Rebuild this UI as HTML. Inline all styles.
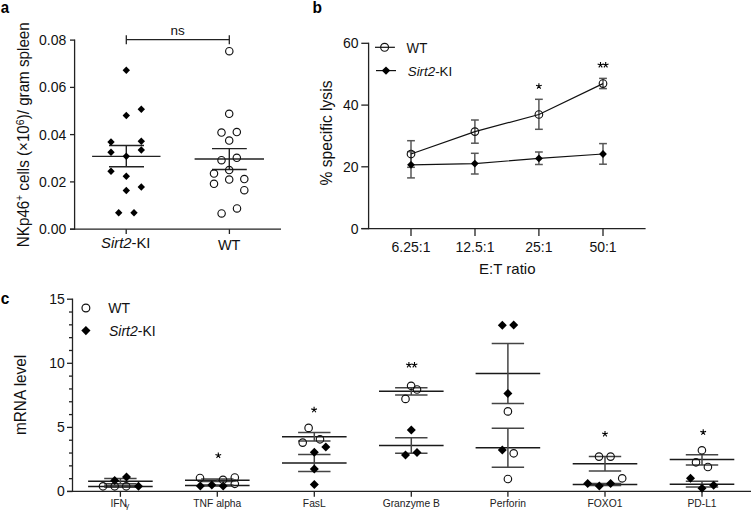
<!DOCTYPE html>
<html><head><meta charset="utf-8"><style>
html,body{margin:0;padding:0;background:#fff;width:751px;height:511px;overflow:hidden}
svg{display:block;font-family:"Liberation Sans", sans-serif}
</style></head><body>
<svg width="751" height="511" viewBox="0 0 751 511">
<rect width="751" height="511" fill="#fff"/>
<text transform="translate(0.8,12.7) scale(0.97,1.07)" font-size="15.5" font-weight="bold" fill="#000">a</text>
<line x1="74.6" y1="39.5" x2="74.6" y2="229.8" stroke="#222" stroke-width="1.3"/>
<line x1="70" y1="229.2" x2="281" y2="229.2" stroke="#222" stroke-width="1.3"/>
<line x1="70" y1="40.1" x2="74.6" y2="40.1" stroke="#222" stroke-width="1.3"/>
<text x="66.3" y="45.1" font-size="14" text-anchor="end" font-weight="normal" fill="#111" >0.08</text>
<line x1="70" y1="87.4" x2="74.6" y2="87.4" stroke="#222" stroke-width="1.3"/>
<text x="66.3" y="92.4" font-size="14" text-anchor="end" font-weight="normal" fill="#111" >0.06</text>
<line x1="70" y1="134.6" x2="74.6" y2="134.6" stroke="#222" stroke-width="1.3"/>
<text x="66.3" y="139.6" font-size="14" text-anchor="end" font-weight="normal" fill="#111" >0.04</text>
<line x1="70" y1="181.9" x2="74.6" y2="181.9" stroke="#222" stroke-width="1.3"/>
<text x="66.3" y="186.9" font-size="14" text-anchor="end" font-weight="normal" fill="#111" >0.02</text>
<line x1="70" y1="229.2" x2="74.6" y2="229.2" stroke="#222" stroke-width="1.3"/>
<text x="66.3" y="234.2" font-size="14" text-anchor="end" font-weight="normal" fill="#111" >0.00</text>
<line x1="126.2" y1="229.2" x2="126.2" y2="234" stroke="#222" stroke-width="1.3"/>
<line x1="229.4" y1="229.2" x2="229.4" y2="234" stroke="#222" stroke-width="1.3"/>
<text x="125.8" y="248.0" font-size="14.8" text-anchor="middle" font-weight="normal" fill="#111" ><tspan font-style="italic">Sirt2</tspan>-KI</text>
<text x="229.2" y="249.8" font-size="14.5" text-anchor="middle" font-weight="normal" fill="#111" >WT</text>
<text transform="translate(28.6,134.7) rotate(-90) scale(1,1.07)" font-size="15.2" text-anchor="middle" fill="#111">NKp46<tspan dy="-5" font-size="10">+</tspan><tspan dy="5"> cells (×10</tspan><tspan dy="-4.5" font-size="10.5">6</tspan><tspan dy="4.5">)/ gram spleen</tspan></text>
<line x1="126.3" y1="39.7" x2="229.3" y2="39.7" stroke="#222" stroke-width="1.3"/>
<line x1="126.3" y1="35.2" x2="126.3" y2="44.2" stroke="#222" stroke-width="1.3"/>
<line x1="229.3" y1="35.2" x2="229.3" y2="44.2" stroke="#222" stroke-width="1.3"/>
<text x="177.6" y="35" font-size="13.5" text-anchor="middle" font-weight="normal" fill="#111" >ns</text>
<line x1="109" y1="145.5" x2="144" y2="145.5" stroke="#222" stroke-width="1.4"/>
<line x1="109" y1="166.7" x2="144" y2="166.7" stroke="#222" stroke-width="1.4"/>
<line x1="126.3" y1="145.5" x2="126.3" y2="166.7" stroke="#222" stroke-width="1.4"/>
<line x1="92.1" y1="156.4" x2="160.5" y2="156.4" stroke="#222" stroke-width="1.4"/>
<line x1="212" y1="148.6" x2="246.8" y2="148.6" stroke="#222" stroke-width="1.4"/>
<line x1="212" y1="169.5" x2="246.8" y2="169.5" stroke="#222" stroke-width="1.4"/>
<line x1="229.3" y1="148.6" x2="229.3" y2="169.5" stroke="#222" stroke-width="1.4"/>
<line x1="194.6" y1="159" x2="264" y2="159" stroke="#222" stroke-width="1.4"/>
<path d="M126.3 66.5L130.0 70.2L126.3 73.9L122.6 70.2Z" fill="#000"/>
<path d="M126.3 111.8L130.0 115.5L126.3 119.2L122.6 115.5Z" fill="#000"/>
<path d="M141.3 105.6L145.0 109.3L141.3 113.0L137.60000000000002 109.3Z" fill="#000"/>
<path d="M111 138.3L114.7 142L111 145.7L107.3 142Z" fill="#000"/>
<path d="M141.3 137.5L145.0 141.2L141.3 144.89999999999998L137.60000000000002 141.2Z" fill="#000"/>
<path d="M111 148.5L114.7 152.2L111 155.89999999999998L107.3 152.2Z" fill="#000"/>
<path d="M141.3 146.3L145.0 150L141.3 153.7L137.60000000000002 150Z" fill="#000"/>
<path d="M126.3 152.60000000000002L130.0 156.3L126.3 160.0L122.6 156.3Z" fill="#000"/>
<path d="M111 167.60000000000002L114.7 171.3L111 175.0L107.3 171.3Z" fill="#000"/>
<path d="M126.3 172.5L130.0 176.2L126.3 179.89999999999998L122.6 176.2Z" fill="#000"/>
<path d="M141.3 183.3L145.0 187L141.3 190.7L137.60000000000002 187Z" fill="#000"/>
<path d="M126.3 186.8L130.0 190.5L126.3 194.2L122.6 190.5Z" fill="#000"/>
<path d="M118.7 209.10000000000002L122.4 212.8L118.7 216.5L115.0 212.8Z" fill="#000"/>
<path d="M134 209.10000000000002L137.7 212.8L134 216.5L130.3 212.8Z" fill="#000"/>
<circle cx="229.3" cy="51.2" r="3.7" fill="none" stroke="#111" stroke-width="1.15"/>
<circle cx="229.2" cy="113.8" r="3.7" fill="none" stroke="#111" stroke-width="1.15"/>
<circle cx="221.5" cy="132.5" r="3.7" fill="none" stroke="#111" stroke-width="1.15"/>
<circle cx="236.8" cy="132" r="3.7" fill="none" stroke="#111" stroke-width="1.15"/>
<circle cx="229.2" cy="140.5" r="3.7" fill="none" stroke="#111" stroke-width="1.15"/>
<circle cx="221.5" cy="160.2" r="3.7" fill="none" stroke="#111" stroke-width="1.15"/>
<circle cx="236.8" cy="157.8" r="3.7" fill="none" stroke="#111" stroke-width="1.15"/>
<circle cx="229.2" cy="170" r="3.7" fill="none" stroke="#111" stroke-width="1.15"/>
<circle cx="214" cy="173.5" r="3.7" fill="none" stroke="#111" stroke-width="1.15"/>
<circle cx="229.2" cy="179.5" r="3.7" fill="none" stroke="#111" stroke-width="1.15"/>
<circle cx="244.3" cy="179" r="3.7" fill="none" stroke="#111" stroke-width="1.15"/>
<circle cx="214" cy="183.8" r="3.7" fill="none" stroke="#111" stroke-width="1.15"/>
<circle cx="244.3" cy="190.2" r="3.7" fill="none" stroke="#111" stroke-width="1.15"/>
<circle cx="237" cy="208.4" r="3.7" fill="none" stroke="#111" stroke-width="1.15"/>
<circle cx="221.6" cy="213.4" r="3.7" fill="none" stroke="#111" stroke-width="1.15"/>
<text transform="translate(312.4,12.8) scale(1,1.1)" font-size="15.5" font-weight="bold" fill="#000">b</text>
<line x1="368.6" y1="42.7" x2="368.6" y2="229.2" stroke="#222" stroke-width="1.3"/>
<line x1="361.3" y1="228.6" x2="645.6" y2="228.6" stroke="#222" stroke-width="1.3"/>
<line x1="361.3" y1="43.3" x2="368.6" y2="43.3" stroke="#222" stroke-width="1.3"/>
<text x="358.5" y="48.3" font-size="14" text-anchor="end" font-weight="normal" fill="#111" >60</text>
<line x1="361.3" y1="105.1" x2="368.6" y2="105.1" stroke="#222" stroke-width="1.3"/>
<text x="358.5" y="110.1" font-size="14" text-anchor="end" font-weight="normal" fill="#111" >40</text>
<line x1="361.3" y1="166.8" x2="368.6" y2="166.8" stroke="#222" stroke-width="1.3"/>
<text x="358.5" y="171.8" font-size="14" text-anchor="end" font-weight="normal" fill="#111" >20</text>
<line x1="361.3" y1="228.6" x2="368.6" y2="228.6" stroke="#222" stroke-width="1.3"/>
<text x="358.5" y="233.6" font-size="14" text-anchor="end" font-weight="normal" fill="#111" >0</text>
<line x1="411" y1="228.6" x2="411" y2="236" stroke="#222" stroke-width="1.3"/>
<text x="411" y="251.6" font-size="14" text-anchor="middle" font-weight="normal" fill="#111" >6.25:1</text>
<line x1="475" y1="228.6" x2="475" y2="236" stroke="#222" stroke-width="1.3"/>
<text x="475" y="251.6" font-size="14" text-anchor="middle" font-weight="normal" fill="#111" >12.5:1</text>
<line x1="538.9" y1="228.6" x2="538.9" y2="236" stroke="#222" stroke-width="1.3"/>
<text x="538.9" y="251.6" font-size="14" text-anchor="middle" font-weight="normal" fill="#111" >25:1</text>
<line x1="603" y1="228.6" x2="603" y2="236" stroke="#222" stroke-width="1.3"/>
<text x="603" y="251.6" font-size="14" text-anchor="middle" font-weight="normal" fill="#111" >50:1</text>
<text x="507.3" y="273.5" font-size="15" text-anchor="middle" font-weight="normal" fill="#111" >E:T ratio</text>
<text transform="translate(331.7,133) rotate(-90)" font-size="15.6" text-anchor="middle" fill="#111">% specific lysis</text>
<line x1="375" y1="47.3" x2="394.9" y2="47.3" stroke="#111" stroke-width="1.2"/>
<circle cx="384.6" cy="47.3" r="3.95" fill="none" stroke="#111" stroke-width="1.15"/>
<text transform="translate(406.6,52.6) scale(1,1.06)" font-size="13.3" fill="#111">WT</text>
<line x1="376" y1="70.6" x2="396" y2="70.6" stroke="#111" stroke-width="1.2"/>
<path d="M386 66.39999999999999L390.2 70.6L386 74.8L381.8 70.6Z" fill="#000"/>
<text x="407.8" y="76" font-size="13.3" text-anchor="start" font-weight="normal" fill="#111" ><tspan font-style="italic">Sirt2</tspan>-KI</text>
<line x1="411" y1="151.7" x2="411" y2="177.9" stroke="#575757" stroke-width="1.5"/>
<line x1="407.1" y1="151.7" x2="414.9" y2="151.7" stroke="#575757" stroke-width="1.5"/>
<line x1="407.1" y1="177.9" x2="414.9" y2="177.9" stroke="#575757" stroke-width="1.5"/>
<line x1="474.8" y1="153.3" x2="474.8" y2="174" stroke="#575757" stroke-width="1.5"/>
<line x1="470.90000000000003" y1="153.3" x2="478.7" y2="153.3" stroke="#575757" stroke-width="1.5"/>
<line x1="470.90000000000003" y1="174" x2="478.7" y2="174" stroke="#575757" stroke-width="1.5"/>
<line x1="538.9" y1="152" x2="538.9" y2="164.5" stroke="#575757" stroke-width="1.5"/>
<line x1="535.0" y1="152" x2="542.8" y2="152" stroke="#575757" stroke-width="1.5"/>
<line x1="535.0" y1="164.5" x2="542.8" y2="164.5" stroke="#575757" stroke-width="1.5"/>
<line x1="603" y1="143.6" x2="603" y2="164.2" stroke="#575757" stroke-width="1.5"/>
<line x1="599.1" y1="143.6" x2="606.9" y2="143.6" stroke="#575757" stroke-width="1.5"/>
<line x1="599.1" y1="164.2" x2="606.9" y2="164.2" stroke="#575757" stroke-width="1.5"/>
<line x1="411" y1="140.7" x2="411" y2="167.3" stroke="#575757" stroke-width="1.5"/>
<line x1="407.1" y1="140.7" x2="414.9" y2="140.7" stroke="#575757" stroke-width="1.5"/>
<line x1="407.1" y1="167.3" x2="414.9" y2="167.3" stroke="#575757" stroke-width="1.5"/>
<line x1="474.9" y1="120" x2="474.9" y2="143.2" stroke="#575757" stroke-width="1.5"/>
<line x1="471.0" y1="120" x2="478.79999999999995" y2="120" stroke="#575757" stroke-width="1.5"/>
<line x1="471.0" y1="143.2" x2="478.79999999999995" y2="143.2" stroke="#575757" stroke-width="1.5"/>
<line x1="538.9" y1="99.3" x2="538.9" y2="129.3" stroke="#575757" stroke-width="1.5"/>
<line x1="535.0" y1="99.3" x2="542.8" y2="99.3" stroke="#575757" stroke-width="1.5"/>
<line x1="535.0" y1="129.3" x2="542.8" y2="129.3" stroke="#575757" stroke-width="1.5"/>
<line x1="603" y1="78.4" x2="603" y2="88.6" stroke="#575757" stroke-width="1.5"/>
<line x1="599.1" y1="78.4" x2="606.9" y2="78.4" stroke="#575757" stroke-width="1.5"/>
<line x1="599.1" y1="88.6" x2="606.9" y2="88.6" stroke="#575757" stroke-width="1.5"/>
<polyline points="411,154 474.9,131.6 538.9,114.5 603,83.6" fill="none" stroke="#111" stroke-width="1.2"/>
<polyline points="411,164.8 474.8,163.6 538.9,158.4 603,154" fill="none" stroke="#111" stroke-width="1.2"/>
<circle cx="411" cy="154" r="3.8" fill="none" stroke="#111" stroke-width="1.15"/>
<circle cx="474.9" cy="131.6" r="3.8" fill="none" stroke="#111" stroke-width="1.15"/>
<circle cx="538.9" cy="114.5" r="3.8" fill="none" stroke="#111" stroke-width="1.15"/>
<circle cx="603" cy="83.6" r="3.8" fill="none" stroke="#111" stroke-width="1.15"/>
<path d="M411 160.9L414.9 164.8L411 168.70000000000002L407.1 164.8Z" fill="#000"/>
<path d="M474.8 159.7L478.7 163.6L474.8 167.5L470.90000000000003 163.6Z" fill="#000"/>
<path d="M538.9 154.5L542.8 158.4L538.9 162.3L535.0 158.4Z" fill="#000"/>
<path d="M603 150.1L606.9 154L603 157.9L599.1 154Z" fill="#000"/>
<path d="M538.90 86.20L538.90 83.20M538.90 86.20L541.75 85.27M538.90 86.20L540.66 88.63M538.90 86.20L537.14 88.63M538.90 86.20L536.05 85.27" stroke="#000" stroke-width="1.1" stroke-linecap="butt" fill="none"/>
<path d="M600.50 65.00L600.50 62.00M600.50 65.00L603.35 64.07M600.50 65.00L602.26 67.43M600.50 65.00L598.74 67.43M600.50 65.00L597.65 64.07" stroke="#000" stroke-width="1.1" stroke-linecap="butt" fill="none"/>
<path d="M605.70 65.00L605.70 62.00M605.70 65.00L608.55 64.07M605.70 65.00L607.46 67.43M605.70 65.00L603.94 67.43M605.70 65.00L602.85 64.07" stroke="#000" stroke-width="1.1" stroke-linecap="butt" fill="none"/>
<text transform="translate(0.8,303.7) scale(1,1.1)" font-size="15.5" font-weight="bold" fill="#000">c</text>
<line x1="72.5" y1="298.6" x2="72.5" y2="491.9" stroke="#222" stroke-width="1.3"/>
<line x1="67" y1="491.3" x2="751" y2="491.3" stroke="#222" stroke-width="1.3"/>
<line x1="67" y1="491.5" x2="72.5" y2="491.5" stroke="#222" stroke-width="1.3"/>
<text x="64.9" y="495.7" font-size="14" text-anchor="end" font-weight="normal" fill="#111" >0</text>
<line x1="69" y1="478.68" x2="72.5" y2="478.68" stroke="#222" stroke-width="1.3"/>
<line x1="69" y1="465.86" x2="72.5" y2="465.86" stroke="#222" stroke-width="1.3"/>
<line x1="69" y1="453.04" x2="72.5" y2="453.04" stroke="#222" stroke-width="1.3"/>
<line x1="69" y1="440.22" x2="72.5" y2="440.22" stroke="#222" stroke-width="1.3"/>
<line x1="67" y1="427.4" x2="72.5" y2="427.4" stroke="#222" stroke-width="1.3"/>
<text x="64.9" y="432.4" font-size="14" text-anchor="end" font-weight="normal" fill="#111" >5</text>
<line x1="69" y1="414.58" x2="72.5" y2="414.58" stroke="#222" stroke-width="1.3"/>
<line x1="69" y1="401.76" x2="72.5" y2="401.76" stroke="#222" stroke-width="1.3"/>
<line x1="69" y1="388.94" x2="72.5" y2="388.94" stroke="#222" stroke-width="1.3"/>
<line x1="69" y1="376.12" x2="72.5" y2="376.12" stroke="#222" stroke-width="1.3"/>
<line x1="67" y1="363.3" x2="72.5" y2="363.3" stroke="#222" stroke-width="1.3"/>
<text x="64.9" y="368.3" font-size="14" text-anchor="end" font-weight="normal" fill="#111" >10</text>
<line x1="69" y1="350.48" x2="72.5" y2="350.48" stroke="#222" stroke-width="1.3"/>
<line x1="69" y1="337.65999999999997" x2="72.5" y2="337.65999999999997" stroke="#222" stroke-width="1.3"/>
<line x1="69" y1="324.84000000000003" x2="72.5" y2="324.84000000000003" stroke="#222" stroke-width="1.3"/>
<line x1="69" y1="312.02" x2="72.5" y2="312.02" stroke="#222" stroke-width="1.3"/>
<line x1="67" y1="299.2" x2="72.5" y2="299.2" stroke="#222" stroke-width="1.3"/>
<text x="64.9" y="304.2" font-size="14" text-anchor="end" font-weight="normal" fill="#111" >15</text>
<text transform="translate(26.3,394.9) rotate(-90) scale(1,1.05)" font-size="15.4" text-anchor="middle" fill="#111">mRNA level</text>
<circle cx="85.9" cy="308" r="3.9" fill="none" stroke="#111" stroke-width="1.2"/>
<path d="M85.9 326.0L90.5 330.6L85.9 335.20000000000005L81.30000000000001 330.6Z" fill="#000"/>
<text x="108.3" y="312.9" font-size="14" text-anchor="start" font-weight="normal" fill="#111" >WT</text>
<text x="109" y="336" font-size="14" text-anchor="start" font-weight="normal" fill="#111" ><tspan font-style="italic">Sirt2</tspan>-KI</text>
<line x1="120.4" y1="491.3" x2="120.4" y2="496.8" stroke="#222" stroke-width="1.3"/>
<text x="110.4" y="506.6" font-size="10.3" text-anchor="start" font-weight="normal" fill="#222" >IFN<tspan font-size="8" dx="-1.8" dy="1.6">γ</tspan></text>
<line x1="217.3" y1="491.3" x2="217.3" y2="496.8" stroke="#222" stroke-width="1.3"/>
<text x="217.3" y="506.6" font-size="10.3" text-anchor="middle" font-weight="normal" fill="#222" >TNF alpha</text>
<line x1="314.3" y1="491.3" x2="314.3" y2="496.8" stroke="#222" stroke-width="1.3"/>
<text x="314.3" y="506.6" font-size="10.3" text-anchor="middle" font-weight="normal" fill="#222" >FasL</text>
<line x1="411.3" y1="491.3" x2="411.3" y2="496.8" stroke="#222" stroke-width="1.3"/>
<text x="411.3" y="506.6" font-size="10.3" text-anchor="middle" font-weight="normal" fill="#222" >Granzyme B</text>
<line x1="507.9" y1="491.3" x2="507.9" y2="496.8" stroke="#222" stroke-width="1.3"/>
<text x="507.9" y="506.6" font-size="10.3" text-anchor="middle" font-weight="normal" fill="#222" >Perforin</text>
<line x1="605" y1="491.3" x2="605" y2="496.8" stroke="#222" stroke-width="1.3"/>
<text x="605" y="506.6" font-size="10.3" text-anchor="middle" font-weight="normal" fill="#222" >FOXO1</text>
<line x1="702" y1="491.3" x2="702" y2="496.8" stroke="#222" stroke-width="1.3"/>
<text x="702" y="506.6" font-size="10.3" text-anchor="middle" font-weight="normal" fill="#222" >PD-L1</text>
<line x1="88.10000000000001" y1="486.4" x2="152.7" y2="486.4" stroke="#1a1a1a" stroke-width="1.5"/>
<line x1="104.2" y1="485.6" x2="136.6" y2="485.6" stroke="#444" stroke-width="1.5"/>
<line x1="104.2" y1="487.2" x2="136.6" y2="487.2" stroke="#444" stroke-width="1.5"/>
<line x1="120.4" y1="485.6" x2="120.4" y2="487.2" stroke="#444" stroke-width="1.5"/>
<line x1="88.10000000000001" y1="481.2" x2="152.7" y2="481.2" stroke="#1a1a1a" stroke-width="1.5"/>
<line x1="104.2" y1="478.5" x2="136.6" y2="478.5" stroke="#444" stroke-width="1.5"/>
<line x1="104.2" y1="483.8" x2="136.6" y2="483.8" stroke="#444" stroke-width="1.5"/>
<line x1="120.4" y1="478.5" x2="120.4" y2="483.8" stroke="#444" stroke-width="1.5"/>
<path d="M114.7 476.0L119.2 480.5L114.7 485.0L110.2 480.5Z" fill="#000"/>
<path d="M126.5 472.5L131.0 477L126.5 481.5L122.0 477Z" fill="#000"/>
<path d="M138.5 481.7L143.0 486.2L138.5 490.7L134.0 486.2Z" fill="#000"/>
<circle cx="103" cy="486.3" r="3.75" fill="none" stroke="#111" stroke-width="1.15"/>
<circle cx="114.7" cy="486.3" r="3.75" fill="none" stroke="#111" stroke-width="1.15"/>
<circle cx="126.2" cy="486.3" r="3.75" fill="none" stroke="#111" stroke-width="1.15"/>
<line x1="185.0" y1="480.2" x2="249.60000000000002" y2="480.2" stroke="#1a1a1a" stroke-width="1.5"/>
<line x1="201.10000000000002" y1="479" x2="233.5" y2="479" stroke="#444" stroke-width="1.5"/>
<line x1="201.10000000000002" y1="481.4" x2="233.5" y2="481.4" stroke="#444" stroke-width="1.5"/>
<line x1="217.3" y1="479" x2="217.3" y2="481.4" stroke="#444" stroke-width="1.5"/>
<line x1="185.0" y1="485.5" x2="249.60000000000002" y2="485.5" stroke="#1a1a1a" stroke-width="1.5"/>
<line x1="201.10000000000002" y1="484.9" x2="233.5" y2="484.9" stroke="#444" stroke-width="1.5"/>
<line x1="201.10000000000002" y1="486.1" x2="233.5" y2="486.1" stroke="#444" stroke-width="1.5"/>
<line x1="217.3" y1="484.9" x2="217.3" y2="486.1" stroke="#444" stroke-width="1.5"/>
<path d="M200.3 481.5L204.8 486L200.3 490.5L195.8 486Z" fill="#000"/>
<path d="M211.8 480.5L216.3 485L211.8 489.5L207.3 485Z" fill="#000"/>
<path d="M223.2 481.5L227.7 486L223.2 490.5L218.7 486Z" fill="#000"/>
<circle cx="200" cy="478" r="3.75" fill="none" stroke="#111" stroke-width="1.15"/>
<circle cx="223" cy="479.8" r="3.75" fill="none" stroke="#111" stroke-width="1.15"/>
<circle cx="234.8" cy="477.5" r="3.75" fill="none" stroke="#111" stroke-width="1.15"/>
<circle cx="234.8" cy="483.8" r="3.75" fill="none" stroke="#111" stroke-width="1.15"/>
<line x1="282.0" y1="436.7" x2="346.6" y2="436.7" stroke="#1a1a1a" stroke-width="1.5"/>
<line x1="298.1" y1="432.4" x2="330.5" y2="432.4" stroke="#444" stroke-width="1.5"/>
<line x1="298.1" y1="441.1" x2="330.5" y2="441.1" stroke="#444" stroke-width="1.5"/>
<line x1="314.3" y1="432.4" x2="314.3" y2="441.1" stroke="#444" stroke-width="1.5"/>
<line x1="282.0" y1="463.1" x2="346.6" y2="463.1" stroke="#1a1a1a" stroke-width="1.5"/>
<line x1="298.1" y1="454.6" x2="330.5" y2="454.6" stroke="#444" stroke-width="1.5"/>
<line x1="298.1" y1="471.5" x2="330.5" y2="471.5" stroke="#444" stroke-width="1.5"/>
<line x1="314.3" y1="454.6" x2="314.3" y2="471.5" stroke="#444" stroke-width="1.5"/>
<path d="M325.8 442.5L330.3 447L325.8 451.5L321.3 447Z" fill="#000"/>
<path d="M314.3 447.8L318.8 452.3L314.3 456.8L309.8 452.3Z" fill="#000"/>
<path d="M314.3 464.6L318.8 469.1L314.3 473.6L309.8 469.1Z" fill="#000"/>
<path d="M314.3 480.0L318.8 484.5L314.3 489.0L309.8 484.5Z" fill="#000"/>
<circle cx="308.6" cy="427.9" r="3.75" fill="none" stroke="#111" stroke-width="1.15"/>
<circle cx="302.7" cy="442.6" r="3.75" fill="none" stroke="#111" stroke-width="1.15"/>
<circle cx="320" cy="439.3" r="3.75" fill="none" stroke="#111" stroke-width="1.15"/>
<line x1="379.0" y1="391.3" x2="443.6" y2="391.3" stroke="#1a1a1a" stroke-width="1.5"/>
<line x1="395.1" y1="387.7" x2="427.5" y2="387.7" stroke="#444" stroke-width="1.5"/>
<line x1="395.1" y1="395" x2="427.5" y2="395" stroke="#444" stroke-width="1.5"/>
<line x1="411.3" y1="387.7" x2="411.3" y2="395" stroke="#444" stroke-width="1.5"/>
<line x1="379.0" y1="445.6" x2="443.6" y2="445.6" stroke="#1a1a1a" stroke-width="1.5"/>
<line x1="395.1" y1="437.7" x2="427.5" y2="437.7" stroke="#444" stroke-width="1.5"/>
<line x1="395.1" y1="453.3" x2="427.5" y2="453.3" stroke="#444" stroke-width="1.5"/>
<line x1="411.3" y1="437.7" x2="411.3" y2="453.3" stroke="#444" stroke-width="1.5"/>
<path d="M411.3 425.6L415.8 430.1L411.3 434.6L406.8 430.1Z" fill="#000"/>
<path d="M405.5 450.4L410.0 454.9L405.5 459.4L401.0 454.9Z" fill="#000"/>
<path d="M417 447.9L421.5 452.4L417 456.9L412.5 452.4Z" fill="#000"/>
<circle cx="411.1" cy="385.8" r="3.75" fill="none" stroke="#111" stroke-width="1.15"/>
<circle cx="417" cy="389.5" r="3.75" fill="none" stroke="#111" stroke-width="1.15"/>
<circle cx="405.5" cy="398.9" r="3.75" fill="none" stroke="#111" stroke-width="1.15"/>
<line x1="475.59999999999997" y1="447.7" x2="540.1999999999999" y2="447.7" stroke="#1a1a1a" stroke-width="1.5"/>
<line x1="491.7" y1="428.2" x2="524.1" y2="428.2" stroke="#444" stroke-width="1.5"/>
<line x1="491.7" y1="467.3" x2="524.1" y2="467.3" stroke="#444" stroke-width="1.5"/>
<line x1="507.9" y1="428.2" x2="507.9" y2="467.3" stroke="#444" stroke-width="1.5"/>
<line x1="475.59999999999997" y1="373.6" x2="540.1999999999999" y2="373.6" stroke="#1a1a1a" stroke-width="1.5"/>
<line x1="491.7" y1="343.5" x2="524.1" y2="343.5" stroke="#444" stroke-width="1.5"/>
<line x1="491.7" y1="403.6" x2="524.1" y2="403.6" stroke="#444" stroke-width="1.5"/>
<line x1="507.9" y1="343.5" x2="507.9" y2="403.6" stroke="#444" stroke-width="1.5"/>
<path d="M502.3 320.8L506.8 325.3L502.3 329.8L497.8 325.3Z" fill="#000"/>
<path d="M513.7 320.6L518.2 325.1L513.7 329.6L509.20000000000005 325.1Z" fill="#000"/>
<path d="M507.9 388.9L512.4 393.4L507.9 397.9L503.4 393.4Z" fill="#000"/>
<path d="M502.3 445.5L506.8 450L502.3 454.5L497.8 450Z" fill="#000"/>
<circle cx="507.9" cy="411.4" r="3.75" fill="none" stroke="#111" stroke-width="1.15"/>
<circle cx="513.7" cy="453.3" r="3.75" fill="none" stroke="#111" stroke-width="1.15"/>
<circle cx="507.9" cy="479" r="3.75" fill="none" stroke="#111" stroke-width="1.15"/>
<line x1="572.7" y1="463.7" x2="637.3" y2="463.7" stroke="#1a1a1a" stroke-width="1.5"/>
<line x1="588.8" y1="456.6" x2="621.2" y2="456.6" stroke="#444" stroke-width="1.5"/>
<line x1="588.8" y1="471" x2="621.2" y2="471" stroke="#444" stroke-width="1.5"/>
<line x1="605" y1="456.6" x2="605" y2="471" stroke="#444" stroke-width="1.5"/>
<line x1="572.7" y1="484.5" x2="637.3" y2="484.5" stroke="#1a1a1a" stroke-width="1.5"/>
<line x1="588.8" y1="483.6" x2="621.2" y2="483.6" stroke="#444" stroke-width="1.5"/>
<line x1="588.8" y1="485.4" x2="621.2" y2="485.4" stroke="#444" stroke-width="1.5"/>
<line x1="605" y1="483.6" x2="605" y2="485.4" stroke="#444" stroke-width="1.5"/>
<path d="M587.7 479.1L592.2 483.6L587.7 488.1L583.2 483.6Z" fill="#000"/>
<path d="M599.3 481.4L603.8 485.9L599.3 490.4L594.8 485.9Z" fill="#000"/>
<path d="M610.6 479.1L615.1 483.6L610.6 488.1L606.1 483.6Z" fill="#000"/>
<circle cx="599" cy="456.6" r="3.75" fill="none" stroke="#111" stroke-width="1.15"/>
<circle cx="610.6" cy="456.6" r="3.75" fill="none" stroke="#111" stroke-width="1.15"/>
<circle cx="622.2" cy="478.3" r="3.75" fill="none" stroke="#111" stroke-width="1.15"/>
<line x1="669.7" y1="459.6" x2="734.3" y2="459.6" stroke="#1a1a1a" stroke-width="1.5"/>
<line x1="685.8" y1="454.7" x2="718.2" y2="454.7" stroke="#444" stroke-width="1.5"/>
<line x1="685.8" y1="465" x2="718.2" y2="465" stroke="#444" stroke-width="1.5"/>
<line x1="702" y1="454.7" x2="702" y2="465" stroke="#444" stroke-width="1.5"/>
<line x1="669.7" y1="484.3" x2="734.3" y2="484.3" stroke="#1a1a1a" stroke-width="1.5"/>
<line x1="685.8" y1="481.2" x2="718.2" y2="481.2" stroke="#444" stroke-width="1.5"/>
<line x1="685.8" y1="487" x2="718.2" y2="487" stroke="#444" stroke-width="1.5"/>
<line x1="702" y1="481.2" x2="702" y2="487" stroke="#444" stroke-width="1.5"/>
<path d="M690.5 473.8L695.0 478.3L690.5 482.8L686.0 478.3Z" fill="#000"/>
<path d="M702 483.8L706.5 488.3L702 492.8L697.5 488.3Z" fill="#000"/>
<path d="M713.6 480.8L718.1 485.3L713.6 489.8L709.1 485.3Z" fill="#000"/>
<circle cx="701.9" cy="450.3" r="3.75" fill="none" stroke="#111" stroke-width="1.15"/>
<circle cx="696" cy="462.3" r="3.75" fill="none" stroke="#111" stroke-width="1.15"/>
<circle cx="707.9" cy="467" r="3.75" fill="none" stroke="#111" stroke-width="1.15"/>
<path d="M218.30 455.50L218.30 452.50M218.30 455.50L221.15 454.57M218.30 455.50L220.06 457.93M218.30 455.50L216.54 457.93M218.30 455.50L215.45 454.57" stroke="#000" stroke-width="1.1" stroke-linecap="butt" fill="none"/>
<path d="M314.10 409.80L314.10 406.80M314.10 409.80L316.95 408.87M314.10 409.80L315.86 412.23M314.10 409.80L312.34 412.23M314.10 409.80L311.25 408.87" stroke="#000" stroke-width="1.1" stroke-linecap="butt" fill="none"/>
<path d="M605.00 434.00L605.00 431.00M605.00 434.00L607.85 433.07M605.00 434.00L606.76 436.43M605.00 434.00L603.24 436.43M605.00 434.00L602.15 433.07" stroke="#000" stroke-width="1.1" stroke-linecap="butt" fill="none"/>
<path d="M703.20 432.30L703.20 429.30M703.20 432.30L706.05 431.37M703.20 432.30L704.96 434.73M703.20 432.30L701.44 434.73M703.20 432.30L700.35 431.37" stroke="#000" stroke-width="1.1" stroke-linecap="butt" fill="none"/>
<path d="M408.90 365.00L408.90 362.00M408.90 365.00L411.75 364.07M408.90 365.00L410.66 367.43M408.90 365.00L407.14 367.43M408.90 365.00L406.05 364.07" stroke="#000" stroke-width="1.1" stroke-linecap="butt" fill="none"/>
<path d="M414.50 365.00L414.50 362.00M414.50 365.00L417.35 364.07M414.50 365.00L416.26 367.43M414.50 365.00L412.74 367.43M414.50 365.00L411.65 364.07" stroke="#000" stroke-width="1.1" stroke-linecap="butt" fill="none"/>
</svg></body></html>
